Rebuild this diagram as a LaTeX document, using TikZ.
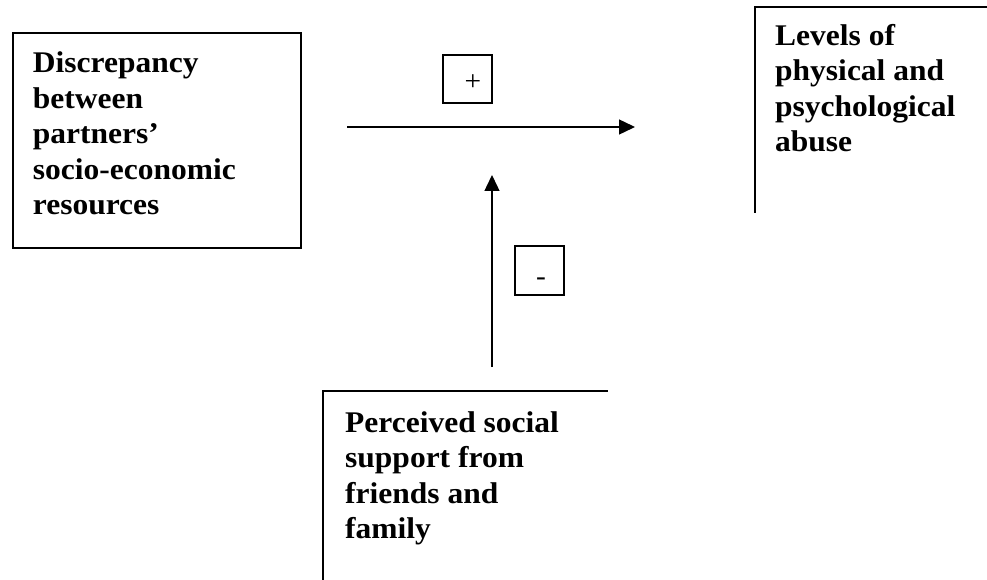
\documentclass[tikz,border=0pt]{standalone}
\usepackage{fontspec}
\setmainfont{Liberation Serif}[FakeStretch=1.05]
\usetikzlibrary{arrows.meta}
\tikzset{
  bigbox/.style={font=\bfseries\fontsize{30pt}{35.5pt}\selectfont, anchor=north west, inner xsep=20pt, inner ysep=19pt},
  frame/.style={line width=1.8pt, line cap=rect},
  signbox/.style={draw, line width=1.6pt, minimum width=49pt, minimum height=48pt, inner sep=0pt,
    text height=0pt, text depth=0pt, font=\fontsize{28pt}{30pt}\selectfont},
  conn/.style={line width=1.4pt, -{Triangle[length=16pt,width=15pt]}}
}
\begin{document}
\begin{tikzpicture}[x=1pt,y=-1pt]
\useasboundingbox (0,0) rectangle (987,580);
\clip (0,0) rectangle (987,580);
% left box
\node[bigbox, draw, frame] (disc) at (12,32)
  {\parbox[t][177pt][t]{248pt}{\raggedright Discrepancy\\between\\partners’\\socio-economic\\resources}};
% right box (open)
\node[bigbox, inner ysep=17pt] (lev) at (755,7)
  {\parbox[t][171pt][t]{260pt}{\raggedright Levels of\\physical and\\psychological\\abuse}};
\draw[frame] (lev.north east) -- (lev.north west) -- (lev.south west);
% bottom box (open)
\node[bigbox, inner xsep=22pt, inner ysep=20pt] (soc) at (323,391)
  {\parbox[t][170pt][t]{240pt}{\raggedright Perceived social\\support from\\friends and\\family}};
\draw[frame] (soc.north east) -- (soc.north west) -- (soc.south west);
% sign boxes
\node[signbox] (plus) at (467.5,79) {\hspace*{11pt}\raisebox{-12pt}{+}};
\node[signbox, minimum height=49pt] (minus) at (539.5,270.5) {\hspace*{3pt}\raisebox{-14.5pt}{-}};
% connectors
\coordinate (hs) at (347,127);
\coordinate (he) at (635,127);
\coordinate (vs) at (492,367);
\coordinate (ve) at (492,175);
\draw[conn] (hs) -- (he);
\draw[conn] (vs) -- (ve);
\end{tikzpicture}
\end{document}
